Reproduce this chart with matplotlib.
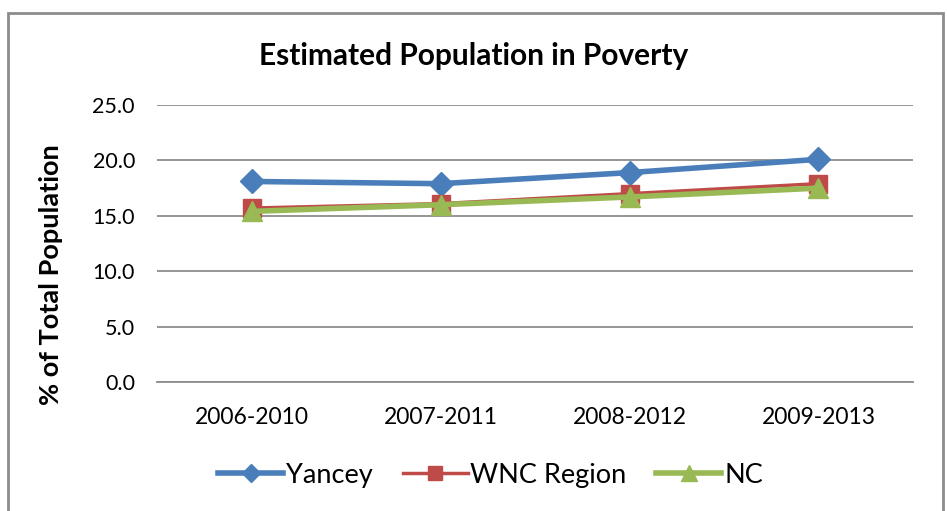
import matplotlib.pyplot as plt
from matplotlib.patches import Rectangle

periods = ['2006-2010', '2007-2011', '2008-2012', '2009-2013']
yancey = [18.1, 17.9, 18.9, 20.1]
wnc_region = [15.7, 16.1, 17.0, 17.9]
nc = [15.4, 16.0, 16.7, 17.5]
y_ticks = [0, 5, 10, 15, 20, 25]

plt.rcParams['font.family'] = ['Lato', 'DejaVu Sans']

fig = plt.figure(figsize=(9.47, 5.11), dpi=100)
ax = fig.add_axes([0.166, 0.2524, 0.798, 0.5421])

x = range(len(periods))
ax.plot(x, yancey, color='#4a7ebb', linewidth=4, marker='D', markersize=12, label='Yancey', zorder=3)
ax.plot(x, wnc_region, color='#be4b48', linewidth=2.5, marker='s', markersize=13, label='WNC Region', zorder=3)
ax.plot(x, nc, color='#98b954', linewidth=4, marker='^', markersize=14, label='NC', zorder=4)

ax.set_xlim(-0.5, len(periods) - 0.5)
ax.set_ylim(0, 25)
ax.set_yticks(y_ticks)
ax.set_yticklabels([f'{v:.1f}' for v in y_ticks])
ax.set_xticks(list(x))
ax.set_xticklabels(periods)
ax.tick_params(axis='y', length=0, labelsize=15.5, pad=16)
ax.tick_params(axis='x', length=0, labelsize=16.5, pad=18)
ax.grid(axis='y', color='#8c8c8c', linewidth=1.3)
ax.set_axisbelow(True)
for s in ['top', 'right', 'left']:
    ax.spines[s].set_visible(False)
ax.spines['bottom'].set_color('#8c8c8c')
ax.spines['bottom'].set_linewidth(1.3)

ax.set_ylabel('% of Total Population', fontsize=19.5, fontweight='bold')
ax.yaxis.set_label_coords(-0.125, 0.386)
fig.text(0.5, 0.89, 'Estimated Population in Poverty', ha='center', va='center',
         fontsize=21.5, fontweight='bold')

fig.legend(loc='center', bbox_to_anchor=(0.518, 0.07), ncol=3, frameon=False, fontsize=19.5,
           handlelength=2.4, columnspacing=1.1, handletextpad=0.1, markerscale=0.8)

fig.patches.append(Rectangle((8 / 947, -0.05), 935 / 947, 1.05 - 13 / 511, transform=fig.transFigure,
                             fill=False, edgecolor='#8c8c8c', linewidth=2))

fig.savefig('out.png', dpi=100)
